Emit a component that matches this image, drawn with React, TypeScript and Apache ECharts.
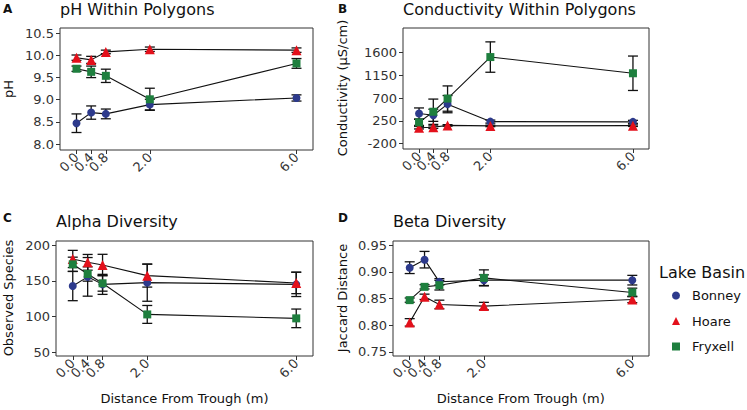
import React, { useEffect, useRef } from "react";
import * as echarts from "echarts";

// ---- data ----
const distances = [0.0, 0.4, 0.8, 2.0, 6.0];
const xTicks = [0.0, 0.4, 0.8, 2.0, 6.0];
const xLabelsMain = [0.0, 0.8, 2.0, 6.0];
const xLabelsExtra = [0.4];
const lakes = ["Bonney", "Hoare", "Fryxell"];

const phBonney = [8.47, 8.71, 8.68, 8.89, 9.04];
const phBonneyErr = [0.21, 0.15, 0.11, 0.12, 0.07];
const phHoare = [9.95, 9.9, 10.08, 10.14, 10.12];
const phHoareErr = [0.06, 0.08, 0.04, 0.05, 0.05];
const phFryxell = [9.7, 9.63, 9.54, 9.01, 9.82];
const phFryxellErr = [0.06, 0.13, 0.15, 0.25, 0.11];

const condBonney = [395, 360, 580, 235, 230];
const condBonneyErr = [110, 120, 170, 30, 30];
const condHoare = [115, 125, 160, 150, 155];
const condHoareErr = [25, 25, 15, 15, 15];
const condFryxell = [220, 430, 690, 1510, 1190];
const condFryxellErr = [60, 250, 250, 300, 340];

const alphaBonney = [142.7, 155.5, 145, 147.4, 145];
const alphaBonneyErr = [20.5, 27, 14, 26, 17];
const alphaHoare = [180.5, 175.8, 172, 157.2, 147];
const alphaHoareErr = [12, 11, 15, 16, 15];
const alphaFryxell = [173, 159.5, 146.5, 103, 97.5];
const alphaFryxellErr = [10, 10, 11, 12.5, 13];

const betaBonney = [0.908, 0.923, 0.8815, 0.8846, 0.8846];
const betaBonneyErr = [0.011, 0.0155, 0.006, 0.01, 0.009];
const betaHoare = [0.8055, 0.8534, 0.8391, 0.836, 0.8485];
const betaHoareErr = [0.007, 0.005, 0.008, 0.007, 0.006];
const betaFryxell = [0.8472, 0.8721, 0.8752, 0.8889, 0.8616];
const betaFryxellErr = [0.004, 0.004, 0.009, 0.015, 0.008];

const phTicks = [8.0, 8.5, 9.0, 9.5, 10.0, 10.5];
const condTicks = [-200, 250, 700, 1150, 1600];
const alphaTicks = [50, 100, 150, 200];
const betaTicks = [0.75, 0.8, 0.85, 0.9, 0.95];

const FONT = "DejaVu Sans";
const colors = ["#2D3A8C", "#E3101B", "#1E7F3E"];
const symbols = ["circle", "triangle", "rect"];
const symbolSizes = [8, 10, 8];

export default function App() {
  const ref = useRef<HTMLDivElement>(null);
  useEffect(() => {
    if (!ref.current) return;
    const chart = echarts.init(ref.current, undefined, { renderer: "svg" });

    const panels = [
      { vals: [phBonney, phHoare, phFryxell], errs: [phBonneyErr, phHoareErr, phFryxellErr], ticks: phTicks, dec: 1, min: 7.865, max: 10.62, grid: { left: 60, top: 28, width: 253, height: 122 } },
      { vals: [condBonney, condHoare, condFryxell], errs: [condBonneyErr, condHoareErr, condFryxellErr], ticks: condTicks, dec: 0, min: -306, max: 2084, grid: { left: 403, top: 28, width: 246, height: 121 } },
      { vals: [alphaBonney, alphaHoare, alphaFryxell], errs: [alphaBonneyErr, alphaHoareErr, alphaFryxellErr], ticks: alphaTicks, dec: 0, min: 44.9, max: 205.6, grid: { left: 56, top: 241, width: 257, height: 115 } },
      { vals: [betaBonney, betaHoare, betaFryxell], errs: [betaBonneyErr, betaHoareErr, betaFryxellErr], ticks: betaTicks, dec: 2, min: 0.7425, max: 0.958, grid: { left: 393, top: 241, width: 256, height: 115 } },
    ];

    const grids: any[] = [];
    const xAxes: any[] = [];
    const yAxes: any[] = [];
    const series: any[] = [];

    const errRender = (params: any, api: any) => {
      const x = api.value(0);
      const p1 = api.coord([x, api.value(1)]);
      const p2 = api.coord([x, api.value(2)]);
      const hw = 5;
      const style = { stroke: "#111", lineWidth: 1.3 };
      return {
        type: "group",
        children: [
          { type: "line", shape: { x1: p1[0], y1: p1[1], x2: p2[0], y2: p2[1] }, style },
          { type: "line", shape: { x1: p1[0] - hw, y1: p1[1], x2: p1[0] + hw, y2: p1[1] }, style },
          { type: "line", shape: { x1: p2[0] - hw, y1: p2[1], x2: p2[0] + hw, y2: p2[1] }, style },
        ],
      };
    };

    const xLabelStyle = {
      rotate: 45, margin: 5, fontSize: 13, fontFamily: FONT, color: "#333",
      showMinLabel: true, showMaxLabel: true, hideOverlap: false,
      formatter: (v: number) => v.toFixed(1),
    };

    panels.forEach((p, gi) => {
      grids.push({ ...p.grid, show: true, borderColor: "#333", borderWidth: 1, backgroundColor: "transparent", containLabel: false });
      // main x axis (ticks + most labels)
      xAxes.push({
        type: "value", gridIndex: gi, min: -0.45, max: 6.45, position: "bottom",
        axisLine: { show: false, onZero: false }, splitLine: { show: false },
        axisTick: { show: true, length: 4, lineStyle: { color: "#333" }, customValues: xTicks },
        axisLabel: { ...xLabelStyle, customValues: xLabelsMain },
      });
      // companion x axis carrying the overlapping 0.4 label
      xAxes.push({
        type: "value", gridIndex: gi, min: -0.45, max: 6.45, position: "bottom", offset: 0,
        axisLine: { show: false, onZero: false }, splitLine: { show: false },
        axisTick: { show: false },
        axisLabel: { ...xLabelStyle, customValues: xLabelsExtra },
      });
      yAxes.push({
        type: "value", gridIndex: gi, min: p.min, max: p.max, position: "left",
        axisLine: { show: false, onZero: false }, splitLine: { show: false },
        axisTick: { show: true, length: 4, lineStyle: { color: "#333" }, customValues: p.ticks },
        axisLabel: {
          margin: 6, fontSize: 13, fontFamily: FONT, color: "#333",
          customValues: p.ticks, showMinLabel: true, showMaxLabel: true, hideOverlap: false,
          formatter: (v: number) => v.toFixed(p.dec),
        },
      });
      const xi = gi * 2;
      // connecting lines
      p.vals.forEach((v, li) => {
        series.push({
          type: "line", name: lakes[li] + " line", xAxisIndex: xi, yAxisIndex: gi,
          data: distances.map((d, i) => [d, v[i]]), showSymbol: false, symbol: "none",
          lineStyle: { color: "#111", width: 1.1 }, z: 1, silent: true,
        });
      });
      // error bars
      p.vals.forEach((v, li) => {
        series.push({
          type: "custom", name: lakes[li] + " err", xAxisIndex: xi, yAxisIndex: gi,
          data: distances.map((d, i) => [d, v[i] - p.errs[li][i], v[i] + p.errs[li][i]]),
          encode: { x: 0, y: [1, 2] }, renderItem: errRender, z: 2, silent: true,
        });
      });
      // points
      p.vals.forEach((v, li) => {
        series.push({
          type: "scatter", name: lakes[li], xAxisIndex: xi, yAxisIndex: gi,
          data: distances.map((d, i) => [d, v[i]]), symbol: symbols[li], symbolSize: symbolSizes[li],
          itemStyle: { color: colors[li], opacity: 1 }, z: 3,
        });
      });
    });

    const txt = (text: string, x: number, y: number, size: number, extra: any = {}) => ({
      type: "text", x, y, rotation: extra.rotation || 0,
      style: {
        text, fontSize: size, fontFamily: FONT, fontWeight: extra.bold ? "bold" : "normal", fill: "#111",
        textAlign: extra.align || "left", align: extra.align || "left",
        textVerticalAlign: "middle", verticalAlign: "middle",
      },
    });

    const graphic = [
      txt("A", 3, 8.5, 12, { bold: true }),
      txt("B", 338, 8.5, 12, { bold: true }),
      txt("C", 3, 218, 12, { bold: true }),
      txt("D", 338, 218, 12, { bold: true }),
      txt("pH Within Polygons", 60, 9.5, 16),
      txt("Conductivity Within Polygons", 403, 9.5, 16),
      txt("Alpha Diversity", 56, 221, 16),
      txt("Beta Diversity", 393, 221, 16),
      txt("pH", 8, 89, 13, { rotation: Math.PI / 2, align: "center" }),
      txt("Conductivity (\u00b5S/cm)", 342.5, 88, 13, { rotation: Math.PI / 2, align: "center" }),
      txt("Observed Species", 8, 298, 13, { rotation: Math.PI / 2, align: "center" }),
      txt("Jaccard Distance", 342.5, 298, 13, { rotation: Math.PI / 2, align: "center" }),
      txt("Distance From Trough (m)", 184.5, 398, 13, { align: "center" }),
      txt("Distance From Trough (m)", 520.7, 398, 13, { align: "center" }),
      txt("Lake Basin", 659, 272, 16),
    ];

    chart.setOption({
      animation: false,
      textStyle: { fontFamily: FONT },
      grid: grids,
      xAxis: xAxes,
      yAxis: yAxes,
      series,
      graphic,
      legend: {
        orient: "vertical", left: 667, top: 284, itemWidth: 8, itemHeight: 8, itemGap: 12.5,
        selectedMode: false,
        textStyle: { fontSize: 13, fontFamily: FONT, color: "#111", padding: [0, 0, 0, 7] },
        data: lakes.map((n, i) => ({ name: n, icon: symbols[i], itemStyle: { color: colors[i] } })),
      },
    });
    return () => chart.dispose();
  }, []);
  return <div ref={ref} style={{ width: 747, height: 410, position: "absolute", left: 0, top: 0 }} />;
}
